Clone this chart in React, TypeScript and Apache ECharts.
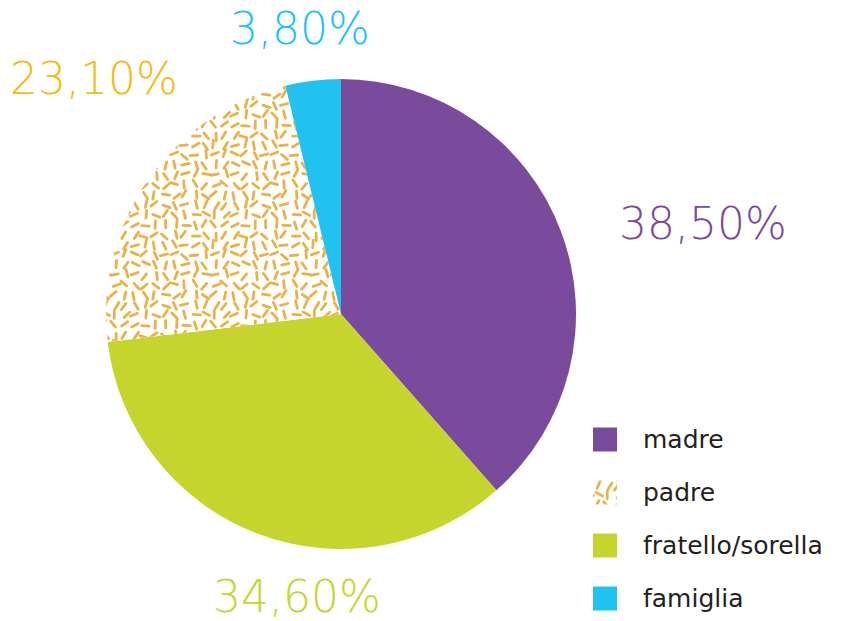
import React, { useEffect, useRef } from "react";
import * as echarts from "echarts";

const categories = ["madre", "fratello/sorella", "padre", "famiglia"];
const values = [38.5, 34.6, 23.1, 3.8];
const legendOrder = ["madre", "padre", "fratello/sorella", "famiglia"];
const sliceColors = ["#7A4A9D", "#C5D52E", "#E9B24A", "#22C2F0"];
const labelColors = ["#7A4A9D", "#C5D52E", "#F6B916", "#22C2F0"];
const labelPos: Record<string, [number, number]> = {
  madre: [703, 223],
  "fratello/sorella": [297, 596],
  padre: [94, 78],
  famiglia: [300, 28],
};

function makePattern(color: string): HTMLCanvasElement {
  const size = 100;
  const c = document.createElement("canvas");
  c.width = size;
  c.height = size;
  const ctx = c.getContext("2d")!;
  ctx.fillStyle = "#ffffff";
  ctx.fillRect(0, 0, size, size);
  ctx.strokeStyle = color;
  ctx.lineWidth = 2.8;
  ctx.lineCap = "round";
  let seed = 12345;
  const rnd = () => {
    seed = (seed * 1103515245 + 12345) % 2147483648;
    return seed / 2147483648;
  };
  const step = 10;
  for (let gy = 0; gy < size; gy += step) {
    for (let gx = 0; gx < size; gx += step) {
      const cx = gx + step / 2 + (rnd() - 0.5) * 4;
      const cy = gy + step / 2 + (rnd() - 0.5) * 4;
      const a = rnd() * Math.PI;
      const len = 3.8;
      const dx = Math.cos(a) * len;
      const dy = Math.sin(a) * len;
      for (const ox of [-size, 0, size]) {
        for (const oy of [-size, 0, size]) {
          ctx.beginPath();
          ctx.moveTo(cx - dx + ox, cy - dy + oy);
          ctx.lineTo(cx + dx + ox, cy + dy + oy);
          ctx.stroke();
        }
      }
    }
  }
  return c;
}

export default function App() {
  const ref = useRef<HTMLDivElement>(null);
  useEffect(() => {
    document.body.style.margin = "0";
    const chart = echarts.init(ref.current!, undefined, { renderer: "svg" });
    const pattern = makePattern(sliceColors[2]);
    const data = categories.map((name, i) => ({
      name,
      value: values[i],
      itemStyle: {
        color:
          name === "padre"
            ? ({ image: pattern, repeat: "repeat" } as any)
            : sliceColors[i],
      },
      label: { color: labelColors[i] },
    }));
    chart.setOption({
      animation: false,
      legend: {
        orient: "vertical",
        left: 593,
        top: 427,
        height: 200,
        padding: 0,
        data: legendOrder,
        icon: "rect",
        itemWidth: 24,
        itemHeight: 24,
        itemGap: 28,
        textStyle: {
          fontFamily: "DejaVu Sans",
          fontSize: 25,
          lineHeight: 24,
          color: "#231F20",
          padding: [0, 0, 0, 21],
        },
      },
      series: [
        {
          type: "pie",
          center: [341, 314],
          radius: 235,
          startAngle: 90,
          clockwise: true,
          data,
          itemStyle: { borderWidth: 0 },
          labelLine: { show: false },
          label: {
            show: true,
            position: "outside",
            overflow: "none",
            fontFamily: "DejaVu Sans",
            fontWeight: 200,
            fontSize: 44,
            lineHeight: 44,
            formatter: (p: any) => p.value.toFixed(2).replace(".", ",") + "%",
          },
          labelLayout: (p: any) => {
            const name = categories[p.dataIndex];
            const pos = labelPos[name];
            return { x: pos[0], y: pos[1], align: "center", verticalAlign: "middle" };
          },
          emphasis: { disabled: true },
        },
      ],
    });
    return () => chart.dispose();
  }, []);
  return <div ref={ref} style={{ width: 855, height: 621 }} />;
}
